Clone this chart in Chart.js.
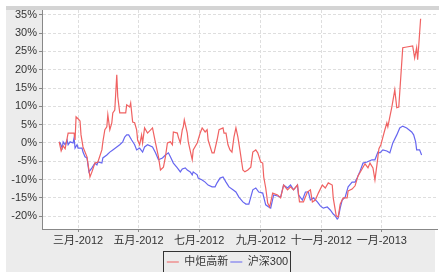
<!DOCTYPE html>
<html>
<head>
<meta charset="utf-8">
<script src="https://cdn.jsdelivr.net/npm/chart.js"></script>
<style>
  html, body { margin: 0; padding: 0; background: #fff; }
</style>
</head>
<body>
<canvas id="myChart" width="439" height="272"></canvas>
<script>
// x values are days counted from 2012-01-01, y values are returns in %
const redDays = [41,43,45,47,50,53,56,57,58,60,62,63,65,69,72,74,77,80,84,85,87,89,90,92,94,95,97,99,100,102,105,108,109,112,113,115,117,119,120,122,124,125,127,130,135,138,141,143,146,148,150,153,155,156,160,161,163,165,166,167,170,171,175,176,180,183,185,188,190,191,195,197,200,202,206,207,209,211,213,215,217,219,221,223,226,228,231,234,236,239,241,244,246,247,249,251,253,256,261,264,267,271,274,277,281,283,287,291,294,296,299,302,306,309,312,316,317,320,322,324,327,331,332,336,339,342,346,349,352,354,357,359,361,363,365,367,369,371,372,374,376,379,381,383,387,391,397,399,401,402,403,405];
const redValues = [0.3,-2.2,-0.8,-1.6,2.7,2.7,2.7,0.8,7.1,6.6,6.0,2.2,-1.1,-3.8,-9.3,-7.9,-5.5,-5.2,-1.9,0.3,3.6,4.4,7.7,3.6,5.5,8.2,9.0,18.6,12.6,8.2,8.2,8.2,10.4,9.8,10.9,5.7,5.5,3.6,0.8,-0.5,2.2,0,4.1,2.7,4.1,0,-3.8,-7.4,-6.6,-3.8,0,0.3,-0.5,3.0,2.7,1.6,0,3.6,4.4,6.3,2.7,0.3,-4.6,-1.9,0,2.7,4.1,3.0,3.6,0.8,-2.7,-2.7,0.8,3.6,4.1,2.7,2.7,-0.5,-1.9,-2.5,1.6,4.1,1.6,-1.9,-7.4,-7.9,-7.4,-6.6,-2.5,-1.9,-2.7,-5.2,-5.5,-9.3,-12.3,-16.4,-17.5,-13.7,-14.2,-15.0,-11.5,-12.8,-12.0,-12.8,-11.5,-16.1,-16.1,-13.4,-12.8,-16.1,-15.6,-13.7,-11.5,-12.3,-10.9,-11.5,-15.0,-19.9,-20.2,-16.7,-15.0,-15.0,-13.1,-12.6,-11.7,-9.0,-7.1,-5.7,-6.8,-5.5,-6.8,-10.1,-6.0,-1.6,-0.5,1.6,3.6,5.5,4.4,7.1,9.8,14.5,9.6,9.8,26.0,26.2,26.5,23.2,26.0,22.7,26.2,33.9];
const blueDays = [41,42,44,45,47,49,50,52,55,56,57,59,60,64,65,67,69,71,74,77,79,80,84,85,89,92,95,99,102,105,107,109,111,114,117,119,122,125,127,130,135,138,141,145,148,151,153,156,160,163,165,168,170,173,175,176,180,181,185,188,191,195,198,200,203,206,209,212,216,219,222,226,229,232,236,239,242,246,249,252,254,257,261,264,267,271,274,277,281,282,286,289,292,294,297,301,304,307,311,314,317,319,321,322,324,326,329,332,336,339,341,344,347,351,356,359,362,364,367,371,374,377,381,384,387,391,396,398,400,401,404,406];
const blueValues = [0.3,0,-1.4,0.3,-0.5,0.8,-0.5,0.3,0,1.4,-1.4,-0.5,-1.4,-1.4,-2.5,-3.8,-4.1,-7.9,-6.8,-5.5,-6.0,-5.2,-5.5,-4.1,-3.3,-2.5,-1.9,-1.1,-0.5,0.3,1.6,2.2,2.2,0.8,-0.5,-1.9,-1.4,-2.5,-1.1,-0.5,-1.1,-2.7,-4.6,-4.1,-3.3,-2.7,-3.8,-5.5,-6.8,-7.9,-7.1,-6.8,-7.4,-7.9,-8.7,-7.9,-8.7,-9.6,-10.1,-10.7,-11.5,-12.0,-12.0,-10.9,-9.6,-9.3,-10.7,-12.0,-12.8,-13.4,-14.8,-16.1,-16.7,-16.7,-12.8,-12.3,-13.4,-13.7,-16.9,-17.5,-17.8,-14.2,-14.5,-14.8,-11.5,-12.3,-11.5,-12.8,-11.5,-14.2,-15.6,-13.4,-13.4,-15.6,-15.0,-16.1,-17.2,-17.8,-17.5,-18.3,-19.4,-19.9,-20.8,-20.5,-17.8,-15.6,-14.8,-12.0,-10.7,-10.7,-9.6,-7.7,-5.5,-5.2,-4.6,-4.6,-2.5,-2.7,-1.9,-2.2,-2.7,0,2.2,4.1,4.6,4.1,3.0,2.2,0.3,-1.9,-1.9,-3.3];
const monthTicks = [60, 121, 182, 244, 305, 366];
const monthLabels = ['三月-2012', '五月-2012', '七月-2012', '九月-2012', '十一月-2012', '一月-2013'];
const yTicks = [-20, -15, -10, -5, 0, 5, 10, 15, 20, 25, 30, 35];

const FONT = "'Liberation Sans', 'Noto Sans CJK SC', sans-serif";
const LEGEND_SHIFT = 7;

const panel = {
  id: 'panel',
  afterLayout(chart) {
    // nudge the legend a little to the right, like the original
    chart.legend.left += LEGEND_SHIFT;
    chart.legend.right += LEGEND_SHIFT;
  },
  beforeDraw(chart) {
    const ctx = chart.ctx, a = chart.chartArea;
    ctx.save();
    ctx.fillStyle = '#ececec';
    ctx.fillRect(6, 6, 429, 266);
    ctx.fillStyle = '#d4d4d4';
    ctx.fillRect(6, 6, 433, 4);
    ctx.fillStyle = '#fff';
    ctx.fillRect(a.left, a.top, a.right - a.left, a.bottom - a.top);
    ctx.restore();
  },
  afterDraw(chart) {
    const lg = chart.legend;
    const pad = lg.options.labels.padding;
    const lw = lg.lineWidths[0];
    const start = (lg.left + pad + lg.right - lw) / 2;
    const l = Math.round(start - 4) + 0.5;
    const r = Math.round(start + lw - pad + 2) + 0.5;
    const t = Math.round(lg.top + pad - 6) + 0.5;
    const ctx = chart.ctx;
    ctx.save();
    ctx.strokeStyle = '#333';
    ctx.lineWidth = 1;
    ctx.strokeRect(l, t, r - l, 40);
    ctx.restore();
  }
};

new Chart('myChart', {
  type: 'line',
  data: {
    datasets: [
      {
        label: '中炬高新',
        data: redDays.map((d, i) => ({x: d, y: redValues[i]})),
        borderColor: '#f06262',
        backgroundColor: '#f06262',
        borderWidth: 1.2,
        pointRadius: 0
      },
      {
        label: '沪深300',
        data: blueDays.map((d, i) => ({x: d, y: blueValues[i]})),
        borderColor: '#6666f0',
        backgroundColor: '#6666f0',
        borderWidth: 1.2,
        pointRadius: 0
      }
    ]
  },
  options: {
    responsive: false,
    animation: false,
    layout: { padding: { left: 4, right: 2, top: 10, bottom: -5.5 } },
    plugins: {
      tooltip: { enabled: false },
      legend: {
        position: 'bottom',
        labels: {
          usePointStyle: true,
          pointStyle: 'line',
          pointStyleWidth: 12,
          padding: 2,
          color: '#333',
          font: { family: FONT, size: 11 }
        }
      }
    },
    scales: {
      x: {
        type: 'linear',
        min: 23.7,
        max: 421.5,
        afterBuildTicks: s => { s.ticks = monthTicks.map(v => ({value: v})); },
        afterFit: s => { s.height = 25.5; },
        ticks: {
          autoSkip: false,
          maxRotation: 0,
          padding: 2,
          color: '#333',
          font: { family: FONT, size: 11 },
          callback: v => monthLabels[monthTicks.indexOf(v)]
        },
        grid: { color: '#dedede', tickColor: '#888', tickLength: 3 },
        border: { color: '#888', dash: [3, 2] }
      },
      y: {
        min: -23.5,
        max: 36.3,
        afterBuildTicks: s => { s.ticks = yTicks.map(v => ({value: v})); },
        afterFit: s => { s.width = 38; },
        ticks: {
          padding: 2,
          color: '#333',
          font: { family: FONT, size: 11 },
          callback: v => v + '%'
        },
        grid: { color: '#dedede', tickColor: '#888', tickLength: 3 },
        border: { color: '#888', dash: [3, 2] }
      }
    }
  },
  plugins: [panel]
});
</script>
</body>
</html>
